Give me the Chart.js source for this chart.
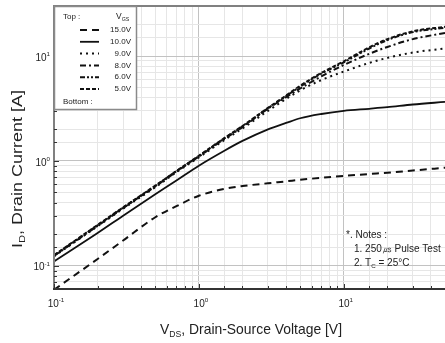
<!DOCTYPE html>
<html lang="en">
<head>
<meta charset="UTF-8">
<title>Drain Current vs Drain-Source Voltage</title>
<script src="https://cdn.jsdelivr.net/npm/chart.js@4.4.1/dist/chart.umd.min.js"></script>
<style>
  html, body { margin: 0; padding: 0; background: #fff; }
</style>
</head>
<body>
<canvas id="idChart" width="445" height="343"></canvas>
<script>
// V_DS sample points [V]
const vds = [0.1, 0.2, 0.3, 0.5, 0.7, 1, 1.5, 2, 3, 4, 5, 7, 10, 15, 20, 30, 50];

// I_D [A] for each gate voltage
const id15 = [0.059, 0.116, 0.174, 0.29, 0.37, 0.465, 0.54, 0.575, 0.612, 0.638, 0.66, 0.69, 0.72, 0.75, 0.77, 0.81, 0.86];
const id10 = [0.11, 0.205, 0.3, 0.48, 0.65, 0.9, 1.25, 1.55, 2.0, 2.3, 2.55, 2.8, 3.0, 3.14, 3.25, 3.45, 3.65];
const id9  = [0.123, 0.238, 0.35, 0.56, 0.78, 1.08, 1.58, 2.04, 3.0, 3.9, 4.7, 5.9, 7.1, 8.6, 9.6, 10.8, 11.8];
const id8  = [0.124, 0.24, 0.355, 0.57, 0.79, 1.1, 1.62, 2.1, 3.15, 4.05, 4.9, 6.4, 8.2, 10.5, 12.2, 14.5, 16.6];
const id6  = [0.125, 0.243, 0.358, 0.575, 0.8, 1.11, 1.64, 2.13, 3.18, 4.15, 5.1, 6.8, 8.7, 11.8, 14.2, 16.9, 18.6];
const id5  = [0.126, 0.245, 0.36, 0.58, 0.8, 1.12, 1.65, 2.15, 3.2, 4.2, 5.2, 6.9, 8.9, 12.1, 14.5, 17.2, 19.0];

const vgsLabels = ['15.0V', '10.0V', '9.0V', '8.0V', '6.0V', '5.0V'];
const dashes = [[7, 5], [], [2, 4], [6, 3, 2, 3], [5, 2, 2, 2, 2, 2], [4, 2]];

// axis decades that get a printed label
const xTickLabels = [0.1, 1, 10];
const yTickLabels = [0.1, 1, 10];

const FONT = '"Liberation Sans", Arial, sans-serif';
const INK = '#222';

function pts(ys) { return vds.map((x, i) => ({ x: x, y: ys[i] })); }
function isDecade(v) {
  const l = Math.log10(v);
  return Math.abs(l - Math.round(l)) < 1e-6;
}

// draw a run of text pieces, some of them sub/superscript
function richText(ctx, parts, x, y, size, align, targetW) {
  const pieces = parts.map(p => {
    const s = p.sub || p.sup ? size * 0.62 : size;
    ctx.font = s + 'px ' + FONT;
    return { t: p.t, s: s, w: ctx.measureText(p.t).width, dy: p.sub ? size * 0.3 : (p.sup ? -size * 0.38 : 0) };
  });
  const total = pieces.reduce((a, p) => a + p.w, 0);
  const sx = targetW ? targetW / total : 1;
  let cx = align === 'center' ? -total / 2 : (align === 'right' ? -total : 0);
  ctx.save();
  ctx.translate(x, y);
  ctx.scale(sx, 1);
  ctx.textAlign = 'left';
  ctx.textBaseline = 'middle';
  pieces.forEach(p => {
    ctx.font = p.s + 'px ' + FONT;
    ctx.fillText(p.t, cx, p.dy);
    cx += p.w;
  });
  ctx.restore();
}

function expText(v) {
  const e = Math.round(Math.log10(v));
  return [{ t: '10' }, { t: e < 0 ? '-' + (-e) : String(e), sup: true }];
}

const decorations = {
  id: 'decorations',
  afterDraw(chart) {
    const ctx = chart.ctx;
    const a = chart.chartArea;
    const xs = chart.scales.x, ys = chart.scales.y;
    ctx.save();
    ctx.fillStyle = INK;

    // frame
    ctx.lineWidth = 2;
    ctx.strokeStyle = '#808080';
    ctx.beginPath();
    ctx.moveTo(a.left, a.bottom);
    ctx.lineTo(a.left, a.top);
    ctx.lineTo(a.right, a.top);
    ctx.stroke();
    ctx.strokeStyle = '#333';
    ctx.beginPath();
    ctx.moveTo(a.left - 1, a.bottom);
    ctx.lineTo(a.right, a.bottom);
    ctx.stroke();

    // inward tick marks
    ctx.lineWidth = 1;
    ctx.strokeStyle = '#333';
    xs.ticks.forEach(t => {
      const px = Math.round(xs.getPixelForValue(t.value)) + 0.5;
      const len = isDecade(t.value) ? 5 : 3;
      ctx.beginPath();
      ctx.moveTo(px, a.bottom);
      ctx.lineTo(px, a.bottom - len);
      ctx.stroke();
    });
    ys.ticks.forEach(t => {
      const py = Math.round(ys.getPixelForValue(t.value)) + 0.5;
      const len = isDecade(t.value) ? 5 : 3;
      ctx.beginPath();
      ctx.moveTo(a.left, py);
      ctx.lineTo(a.left + len, py);
      ctx.stroke();
    });

    // decade labels
    xTickLabels.forEach(v => richText(ctx, expText(v), xs.getPixelForValue(v) + 2, a.bottom + 15, 10, 'center'));
    yTickLabels.forEach(v => richText(ctx, expText(v), a.left - 4, ys.getPixelForValue(v) + 2, 10, 'right'));

    // axis titles
    richText(ctx, [{ t: 'V' }, { t: 'DS', sub: true }, { t: ', Drain-Source Voltage [V]' }],
      251, 330, 15, 'center', 182);
    ctx.save();
    ctx.translate(18, 169);
    ctx.rotate(-Math.PI / 2);
    richText(ctx, [{ t: 'I' }, { t: 'D', sub: true }, { t: ', Drain Current [A]' }],
      0, 0, 15, 'center', 158);
    ctx.restore();

    // legend box
    const bx = a.left, by = a.top, bw = 82, bh = 103;
    ctx.fillStyle = '#fff';
    ctx.fillRect(bx, by, bw, bh);
    ctx.strokeStyle = '#8a8a8a';
    ctx.lineWidth = 1.5;
    ctx.strokeRect(bx + 0.5, by + 0.5, bw, bh);
    ctx.fillStyle = INK;
    richText(ctx, [{ t: 'Top :' }], bx + 9, by + 11, 8, 'left');
    richText(ctx, [{ t: 'V' }, { t: 'GS', sub: true }], bx + 62, by + 11, 8.5, 'left');
    chart.data.datasets.forEach((ds, i) => {
      const ry = by + 24 + i * 11.8;
      ctx.strokeStyle = '#111';
      ctx.lineWidth = ds.borderWidth;
      ctx.setLineDash(ds.borderDash);
      ctx.beginPath();
      ctx.moveTo(bx + 26, ry);
      ctx.lineTo(bx + 45, ry);
      ctx.stroke();
      ctx.setLineDash([]);
      richText(ctx, [{ t: ds.label }], bx + 77, ry, 8, 'right');
    });
    richText(ctx, [{ t: 'Bottom :' }], bx + 9, by + 96, 8, 'left');

    // test conditions
    richText(ctx, [{ t: '*. Notes :' }], 346, 235, 10, 'left');
    richText(ctx, [{ t: '1. 250㎲ Pulse Test' }], 354, 249, 10, 'left');
    richText(ctx, [{ t: '2. T' }, { t: 'C', sub: true }, { t: ' = 25°C' }], 354, 263, 10, 'left');
    ctx.restore();
  }
};

const gridColor = c => isDecade(c.tick.value) ? '#c2c2c2' : '#e6e6e6';

const datasets = [id15, id10, id9, id8, id6, id5].map((ys, i) => ({
  label: vgsLabels[i],
  data: pts(ys),
  borderColor: '#111',
  borderWidth: i === 1 ? 1.8 : 2,
  borderDash: dashes[i],
  pointRadius: 0,
  fill: false,
  cubicInterpolationMode: 'monotone'
}));

new Chart(document.getElementById('idChart'), {
  type: 'line',
  data: { datasets: datasets },
  options: {
    responsive: false,
    animation: false,
    layout: { padding: { top: 6, right: 0, left: 0, bottom: 0 } },
    plugins: { legend: { display: false }, tooltip: { enabled: false } },
    scales: {
      x: {
        type: 'logarithmic',
        min: 0.1,
        max: 50,
        afterFit: s => { s.height = 54; },
        grid: { color: gridColor, lineWidth: 1, drawTicks: false },
        border: { display: false },
        ticks: { display: false, autoSkip: false }
      },
      y: {
        type: 'logarithmic',
        min: 0.06,
        max: 30,
        afterFit: s => { s.width = 54; },
        grid: { color: gridColor, lineWidth: 1, drawTicks: false },
        border: { display: false },
        ticks: { display: false, autoSkip: false }
      }
    }
  },
  plugins: [decorations]
});
</script>
</body>
</html>
